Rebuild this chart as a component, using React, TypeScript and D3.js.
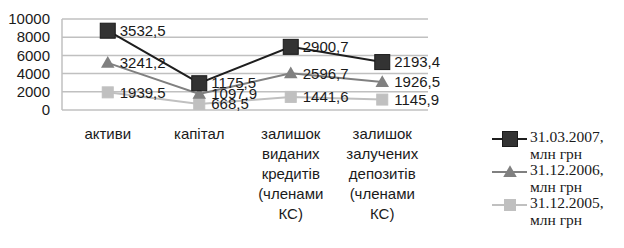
import React from "react";
import * as d3 from "d3";

const categories = ["активи", "капітал", "залишок виданих кредитів", "залишок залучених депозитів"];
const categoryLines = [
  ["активи"],
  ["капітал"],
  ["залишок", "виданих", "кредитів", "(членами", "КС)"],
  ["залишок", "залучених", "депозитів", "(членами", "КС)"],
];
const series2005 = [1939.5, 668.5, 1441.6, 1145.9];
const series2006 = [3241.2, 1097.9, 2596.7, 1926.5];
const series2007 = [3532.5, 1175.5, 2900.7, 2193.4];
const yTicks = [0, 2000, 4000, 6000, 8000, 10000];
const seriesNames = ["31.12.2005,", "31.12.2006,", "31.03.2007,"];
const unitLabel = "млн грн";

const fmt = (v: number) => v.toFixed(1).replace(".", ",");

export default function App() {
  const W = 624, H = 248;
  const x = d3.scaleBand<string>().domain(categories).range([62, 428]);
  const y = d3.scaleLinear().domain([0, 10000]).range([110, 19]);
  const cx = (i: number) => (x(categories[i]) as number) + x.bandwidth() / 2;

  const rows = categories.map((c, i) => ({ c, s2005: series2005[i], s2006: series2006[i], s2007: series2007[i] }));
  const stack = d3.stack<any>().keys(["s2005", "s2006", "s2007"]);
  const stacked = stack(rows);
  const raw = [series2005, series2006, series2007];

  const styles = [
    { line: "#c0c0c0", fill: "#c0c0c0", marker: "square", size: 11 },
    { line: "#808080", fill: "#808080", marker: "triangle", size: 12 },
    { line: "#1e1e1e", fill: "#333333", marker: "square", size: 15 },
  ];

  const marker = (st: any, px: number, py: number, key: string) => {
    if (st.marker === "square") {
      const s = st.size;
      return <rect key={key} x={px - s / 2} y={py - s / 2} width={s} height={s} fill={st.fill} stroke={st.fill === "#333333" ? "#1a1a1a" : st.fill} strokeWidth={1} />;
    }
    const s = st.size;
    const sym = d3.symbol().type(d3.symbolTriangle).size(s * s * 0.55)();
    return <path key={key} d={sym as string} transform={`translate(${px},${py + 1})`} fill={st.fill} />;
  };

  const line = d3.line<[number, number]>().x((d) => d[0]).y((d) => d[1]);
  const font = "'Liberation Sans', Arial, sans-serif";
  const serif = "'Liberation Serif', 'Times New Roman', serif";

  const legendY = [205, 172, 139];

  return (
    <svg width={W} height={H} style={{ position: "absolute", left: 0, top: 0, background: "#fff" }}>
      {yTicks.map((t) => (
        <g key={t}>
          <line x1={62} x2={428} y1={y(t)} y2={y(t)} stroke="#c0c0c0" strokeWidth={1.5} />
          <text x={50} y={y(t)} dy="0.35em" textAnchor="end" fontFamily={font} fontSize={15} fill="#1a1a1a">
            {t}
          </text>
        </g>
      ))}
      <line x1={62} x2={62} y1={y(10000)} y2={y(0)} stroke="#c0c0c0" strokeWidth={1.5} />
      {categoryLines.map((lines, i) => (
        <text key={i} x={cx(i)} y={139} textAnchor="middle" fontFamily={font} fontSize={15} fill="#1a1a1a">
          {lines.map((l, j) => (
            <tspan key={j} x={cx(i)} y={139 + j * 20}>{l}</tspan>
          ))}
        </text>
      ))}
      {stacked.map((s, k) => {
        const pts: [number, number][] = s.map((d, i) => [cx(i), y(d[1])]);
        return (
          <g key={k}>
            <path d={line(pts) as string} fill="none" stroke={styles[k].line} strokeWidth={2} />
          </g>
        );
      })}
      {stacked.map((s, k) => (
        <g key={"m" + k}>
          {s.map((d, i) => marker(styles[k], cx(i), y(d[1]), `${k}-${i}`))}
        </g>
      ))}
      {stacked.map((s, k) => (
        <g key={"l" + k}>
          {s.map((d, i) => (
            <text key={i} x={cx(i) + 12} y={y(d[1])} dy="0.35em" fontFamily={font} fontSize={15} fill="#1a1a1a">
              {fmt(raw[k][i])}
            </text>
          ))}
        </g>
      ))}
      {[2, 1, 0].map((k) => (
        <g key={"lg" + k}>
          <line x1={492} x2={527} y1={legendY[k]} y2={legendY[k]} stroke={styles[k].line} strokeWidth={2} />
          {marker(styles[k], 510, legendY[k], "lgm" + k)}
          <text fontFamily={serif} fontSize={15.5} fill="#1a1a1a">
            <tspan x={530} y={legendY[k] + 3}>{seriesNames[k]}</tspan>
            <tspan x={530} y={legendY[k] + 19.5}>{unitLabel}</tspan>
          </text>
        </g>
      ))}
    </svg>
  );
}
